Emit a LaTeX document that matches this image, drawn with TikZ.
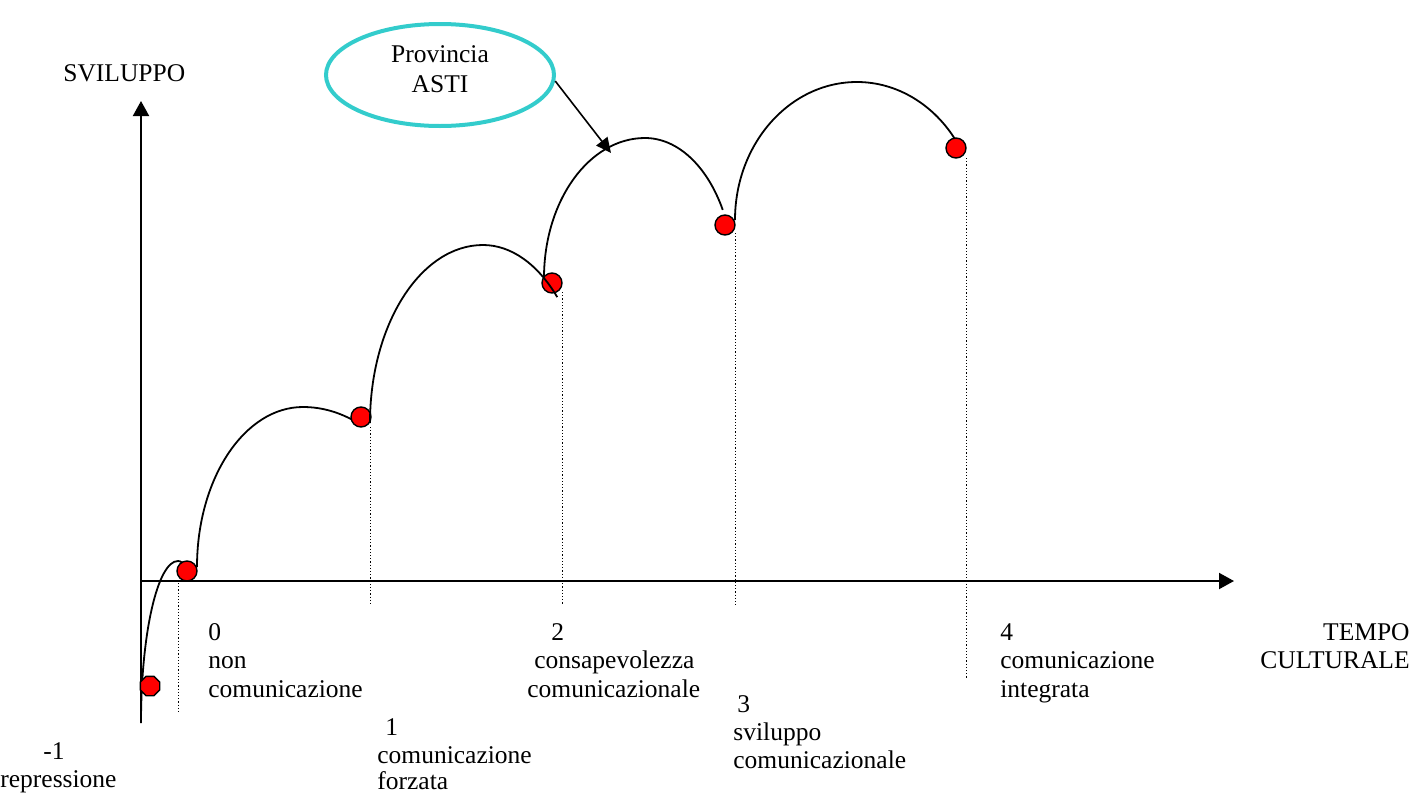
\documentclass[tikz,border=0pt]{standalone}
\usepackage{fontspec}
\setmainfont{Liberation Serif}
\usetikzlibrary{arrows.meta,shapes.geometric}
\definecolor{turq}{RGB}{51,204,204}
\begin{document}
\begin{tikzpicture}[x=0.5pt,y=-0.5pt,
  axis/.style={line width=1pt,-{Triangle[length=7.5pt,width=8pt]}},
  curve/.style={line width=0.9pt},
  guide/.style={line width=0.5pt,dash pattern=on 0.6pt off 1pt},
  dot/.style={circle,draw=black,fill=red,line width=0.7pt,minimum size=10pt,inner sep=0pt},
  octdot/.style={regular polygon,regular polygon sides=8,draw=black,fill=red,line width=0.7pt,minimum size=10.5pt,inner sep=0pt},
  lbl/.style={anchor=base west,inner sep=0pt,font=\fontsize{12.75}{14.25}\selectfont},
  rlbl/.style={anchor=base east,inner sep=0pt,font=\fontsize{12.75}{14.25}\selectfont},
  ]
\useasboundingbox (0,0) rectangle (1425,793);
% axes
\coordinate (O) at (141,581);
\coordinate (ybot) at (141,723);
\coordinate (ytop) at (141,101);
\coordinate (xend) at (1234,581);
\draw[axis] (ybot) -- (ytop);
\draw[axis] (O) -- (xend);
% dotted guides
\coordinate (g0a) at (178,583); \coordinate (g0b) at (178,714);
\coordinate (g1a) at (370,427); \coordinate (g1b) at (370,605);
\coordinate (g2a) at (562,292); \coordinate (g2b) at (562,605);
\coordinate (g3a) at (735,233); \coordinate (g3b) at (735,605);
\coordinate (g4a) at (966,158); \coordinate (g4b) at (966,678);
\draw[guide] (g0a) -- (g0b);
\draw[guide] (g1a) -- (g1b);
\draw[guide] (g2a) -- (g2b);
\draw[guide] (g3a) -- (g3b);
\draw[guide] (g4a) -- (g4b);
% arcs drawn below dots
\draw[curve] (141,723) arc[start angle=180,end angle=270,x radius=37,y radius=162]
  arc[start angle=270,end angle=285.6,x radius=30,y radius=162];
\draw[curve] (197,567) arc[start angle=180,end angle=270,x radius=106,y radius=160]
  arc[start angle=270,end angle=295.8,x radius=126,y radius=160];
\draw[curve] (544,278) arc[start angle=180,end angle=270,x radius=101,y radius=140]
  arc[start angle=270,end angle=330.9,x radius=89,y radius=140];
\draw[curve] (735,220) arc[start angle=180,end angle=270,x radius=122,y radius=138]
  arc[start angle=270,end angle=325.6,x radius=121,y radius=138];
% dots
\node[octdot] (dm1) at (150,686) {};
\node[dot] (d0) at (187,571) {};
\node[dot] (d1) at (361,417) {};
\node[dot] (d2) at (552,283) {};
\node[dot] (d3) at (725,225) {};
\node[dot] (d4) at (956,148) {};
% arc drawn over its dot
\draw[curve] (370,423) arc[start angle=180,end angle=270,x radius=113,y radius=178]
  arc[start angle=270,end angle=315,x radius=105,y radius=178];
% Provincia ellipse and arrow
\node[ellipse,draw=turq,line width=2pt,minimum width=114pt,minimum height=51pt,inner sep=0pt] (prov) at (440,75) {};
\node[align=center,inner sep=0pt,font=\fontsize{12.75}{15}\selectfont] (provtxt) at (440,69.5) {Provincia\\ASTI};
\coordinate (tip) at (611,153);
\draw[line width=0.8pt,-{Triangle[length=7.5pt,width=7pt]}] (prov.-3) -- (tip);
% labels
\node[lbl] (ys) at (63,81) {SVILUPPO};
\node[rlbl] (t1) at (1410,640) {TEMPO};
\node[rlbl] (t2) at (1410,668) {CULTURALE};
\node[lbl] (lm1a) at (43,759) {-1};
\node[lbl] (lm1b) at (0,787) {repressione};
\node[lbl] (l0a) at (208,640) {0};
\node[lbl] (l0b) at (208,668) {non};
\node[lbl] (l0c) at (208,697) {comunicazione};
\node[lbl] (l1a) at (385,735) {1};
\node[lbl] (l1b) at (377,763) {comunicazione};
\node[lbl] (l1c) at (377,789) {forzata};
\node[lbl] (l2a) at (551,640) {2};
\node[lbl] (l2b) at (534,668) {consapevolezza};
\node[lbl] (l2c) at (527,697) {comunicazionale};
\node[lbl] (l3a) at (737,712) {3};
\node[lbl] (l3b) at (733,740) {sviluppo};
\node[lbl] (l3c) at (733,768) {comunicazionale};
\node[lbl] (l4a) at (1000,640) {4};
\node[lbl] (l4b) at (1000,668) {comunicazione};
\node[lbl] (l4c) at (1000,697) {integrata};
\end{tikzpicture}
\end{document}
